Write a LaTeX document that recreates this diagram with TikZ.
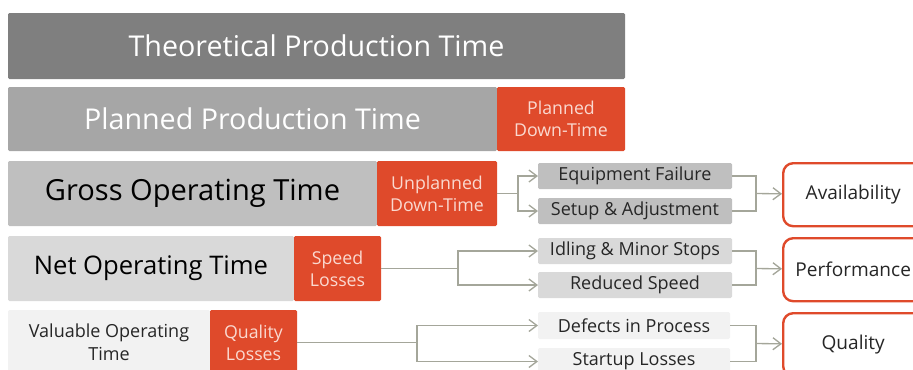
\documentclass[tikz,border=0pt]{standalone}
\usepackage{fontspec}
\setmainfont{Open Sans}
\usetikzlibrary{arrows.meta}

\definecolor{rowA}{HTML}{7F7F7F}
\definecolor{rowB}{HTML}{A6A6A6}
\definecolor{rowC}{HTML}{BFBFBF}
\definecolor{rowD}{HTML}{D9D9D9}
\definecolor{rowE}{HTML}{F2F2F2}
\definecolor{lossred}{HTML}{DF4A2B}
\definecolor{losstext}{HTML}{FAD9D0}
\definecolor{linkgray}{HTML}{A4A69A}
\definecolor{darktext}{HTML}{262626}

\newcommand{\pxu}{0.75pt}

\tikzset{
  wh/.style 2 args={minimum width={#1*\pxu}, minimum height={#2*\pxu}},
  bar/.style={anchor=north west, inner sep=0pt, outer sep=0pt, align=center, rounded corners=1pt},
  loss/.style={bar, fill=lossred, text=losstext, font=\fontsize{13.3}{16.5}\selectfont},
  cause/.style={bar, wh={194}{26}, text=darktext, font=\fontsize{13.5}{15}\selectfont},
  kpi/.style={anchor=north west, draw=lossred, line width=1.8pt, rounded corners=7.5pt,
    fill=white, wh={140}{63}, text=darktext, font=\fontsize{14.3}{16}\selectfont},
  link/.style={draw=linkgray, line width=1pt},
  arr/.style={link, -{Straight Barb[length=6pt,width=9pt]}},
}

\begin{document}
\begin{tikzpicture}[x=\pxu, y=-\pxu]
  \useasboundingbox (0,0) rectangle (913,369);
  \clip (0,0) rectangle (913,369);

  % time bars
  \node[bar, fill=rowA, wh={617}{66}, text=white, font=\fontsize{21.5}{24}\selectfont] (theo) at (8,13) {Theoretical Production Time};
  \node[bar, fill=rowB, wh={489}{64}, text=white, font=\fontsize{21.5}{24}\selectfont] (planned) at (8,87) {Planned Production Time};
  \node[loss, wh={128}{64}] (pdown) at (497,87) {Planned\\Down-Time};
  \node[bar, fill=rowC, wh={369}{65}, text=black, font=\fontsize{21.8}{24}\selectfont] (gross) at (8,161) {Gross Operating Time};
  \node[loss, wh={120}{65}] (udown) at (377,161) {Unplanned\\Down-Time};
  \node[bar, fill=rowD, wh={286}{65}, text=black, font=\fontsize{19.2}{22}\selectfont] (net) at (8,236) {Net Operating Time};
  \node[loss, wh={87}{65}] (speed) at (294,236) {Speed\\Losses};
  \node[bar, fill=rowE, wh={202}{65}, text=darktext, font=\fontsize{13.5}{17}\selectfont] (valuable) at (8,310) {Valuable Operating\\Time};
  \node[loss, wh={87}{65}] (qloss) at (210,310) {Quality\\Losses};

  % six big losses
  \node[cause, fill=rowC] (equip) at (538,163) {Equipment Failure};
  \node[cause, fill=rowC] (setup) at (538,198) {Setup \& Adjustment};
  \node[cause, fill=rowD] (idle) at (538,238) {Idling \& Minor Stops};
  \node[cause, fill=rowD] (reduced) at (538,272) {Reduced Speed};
  \node[cause, fill=rowE, wh={192}{27}] (defects) at (538,312) {Defects in Process};
  \node[cause, fill=rowE, wh={192}{27}] (startup) at (538,348) {Startup Losses};

  % OEE factors
  \node[kpi] (avail) at (782,162) {Availability};
  \node[kpi] (perf) at (782,237) {Performance};
  \node[kpi] (qual) at (782,312) {Quality};

  % losses to causes
  \coordinate (uj) at (518,193.5);
  \draw[link] (udown) -- (uj);
  \draw[arr] (uj) |- (equip);
  \draw[arr] (uj) |- (setup);
  \coordinate (sj) at (458,268.5);
  \draw[link] (speed) -- (sj);
  \draw[arr] (sj) |- (idle);
  \draw[arr] (sj) |- (reduced);
  \coordinate (qj) at (417,342.5);
  \draw[link] (qloss) -- (qj);
  \draw[arr] (qj) |- (defects);
  \draw[arr] (qj) |- (startup);

  % causes to factors
  \coordinate (aj) at (756,193.5);
  \draw[link] (equip.east) -| (aj) |- (setup.east);
  \draw[arr] (aj) -- (avail);
  \coordinate (pj) at (756,268.5);
  \draw[link] (idle.east) -| (pj) |- (reduced.east);
  \draw[arr] (pj) -- (perf);
  \coordinate (fj) at (756,343.5);
  \draw[link] (defects.east) -| (fj) |- (startup.east);
  \draw[arr] (fj) -- (qual);
\end{tikzpicture}
\end{document}
